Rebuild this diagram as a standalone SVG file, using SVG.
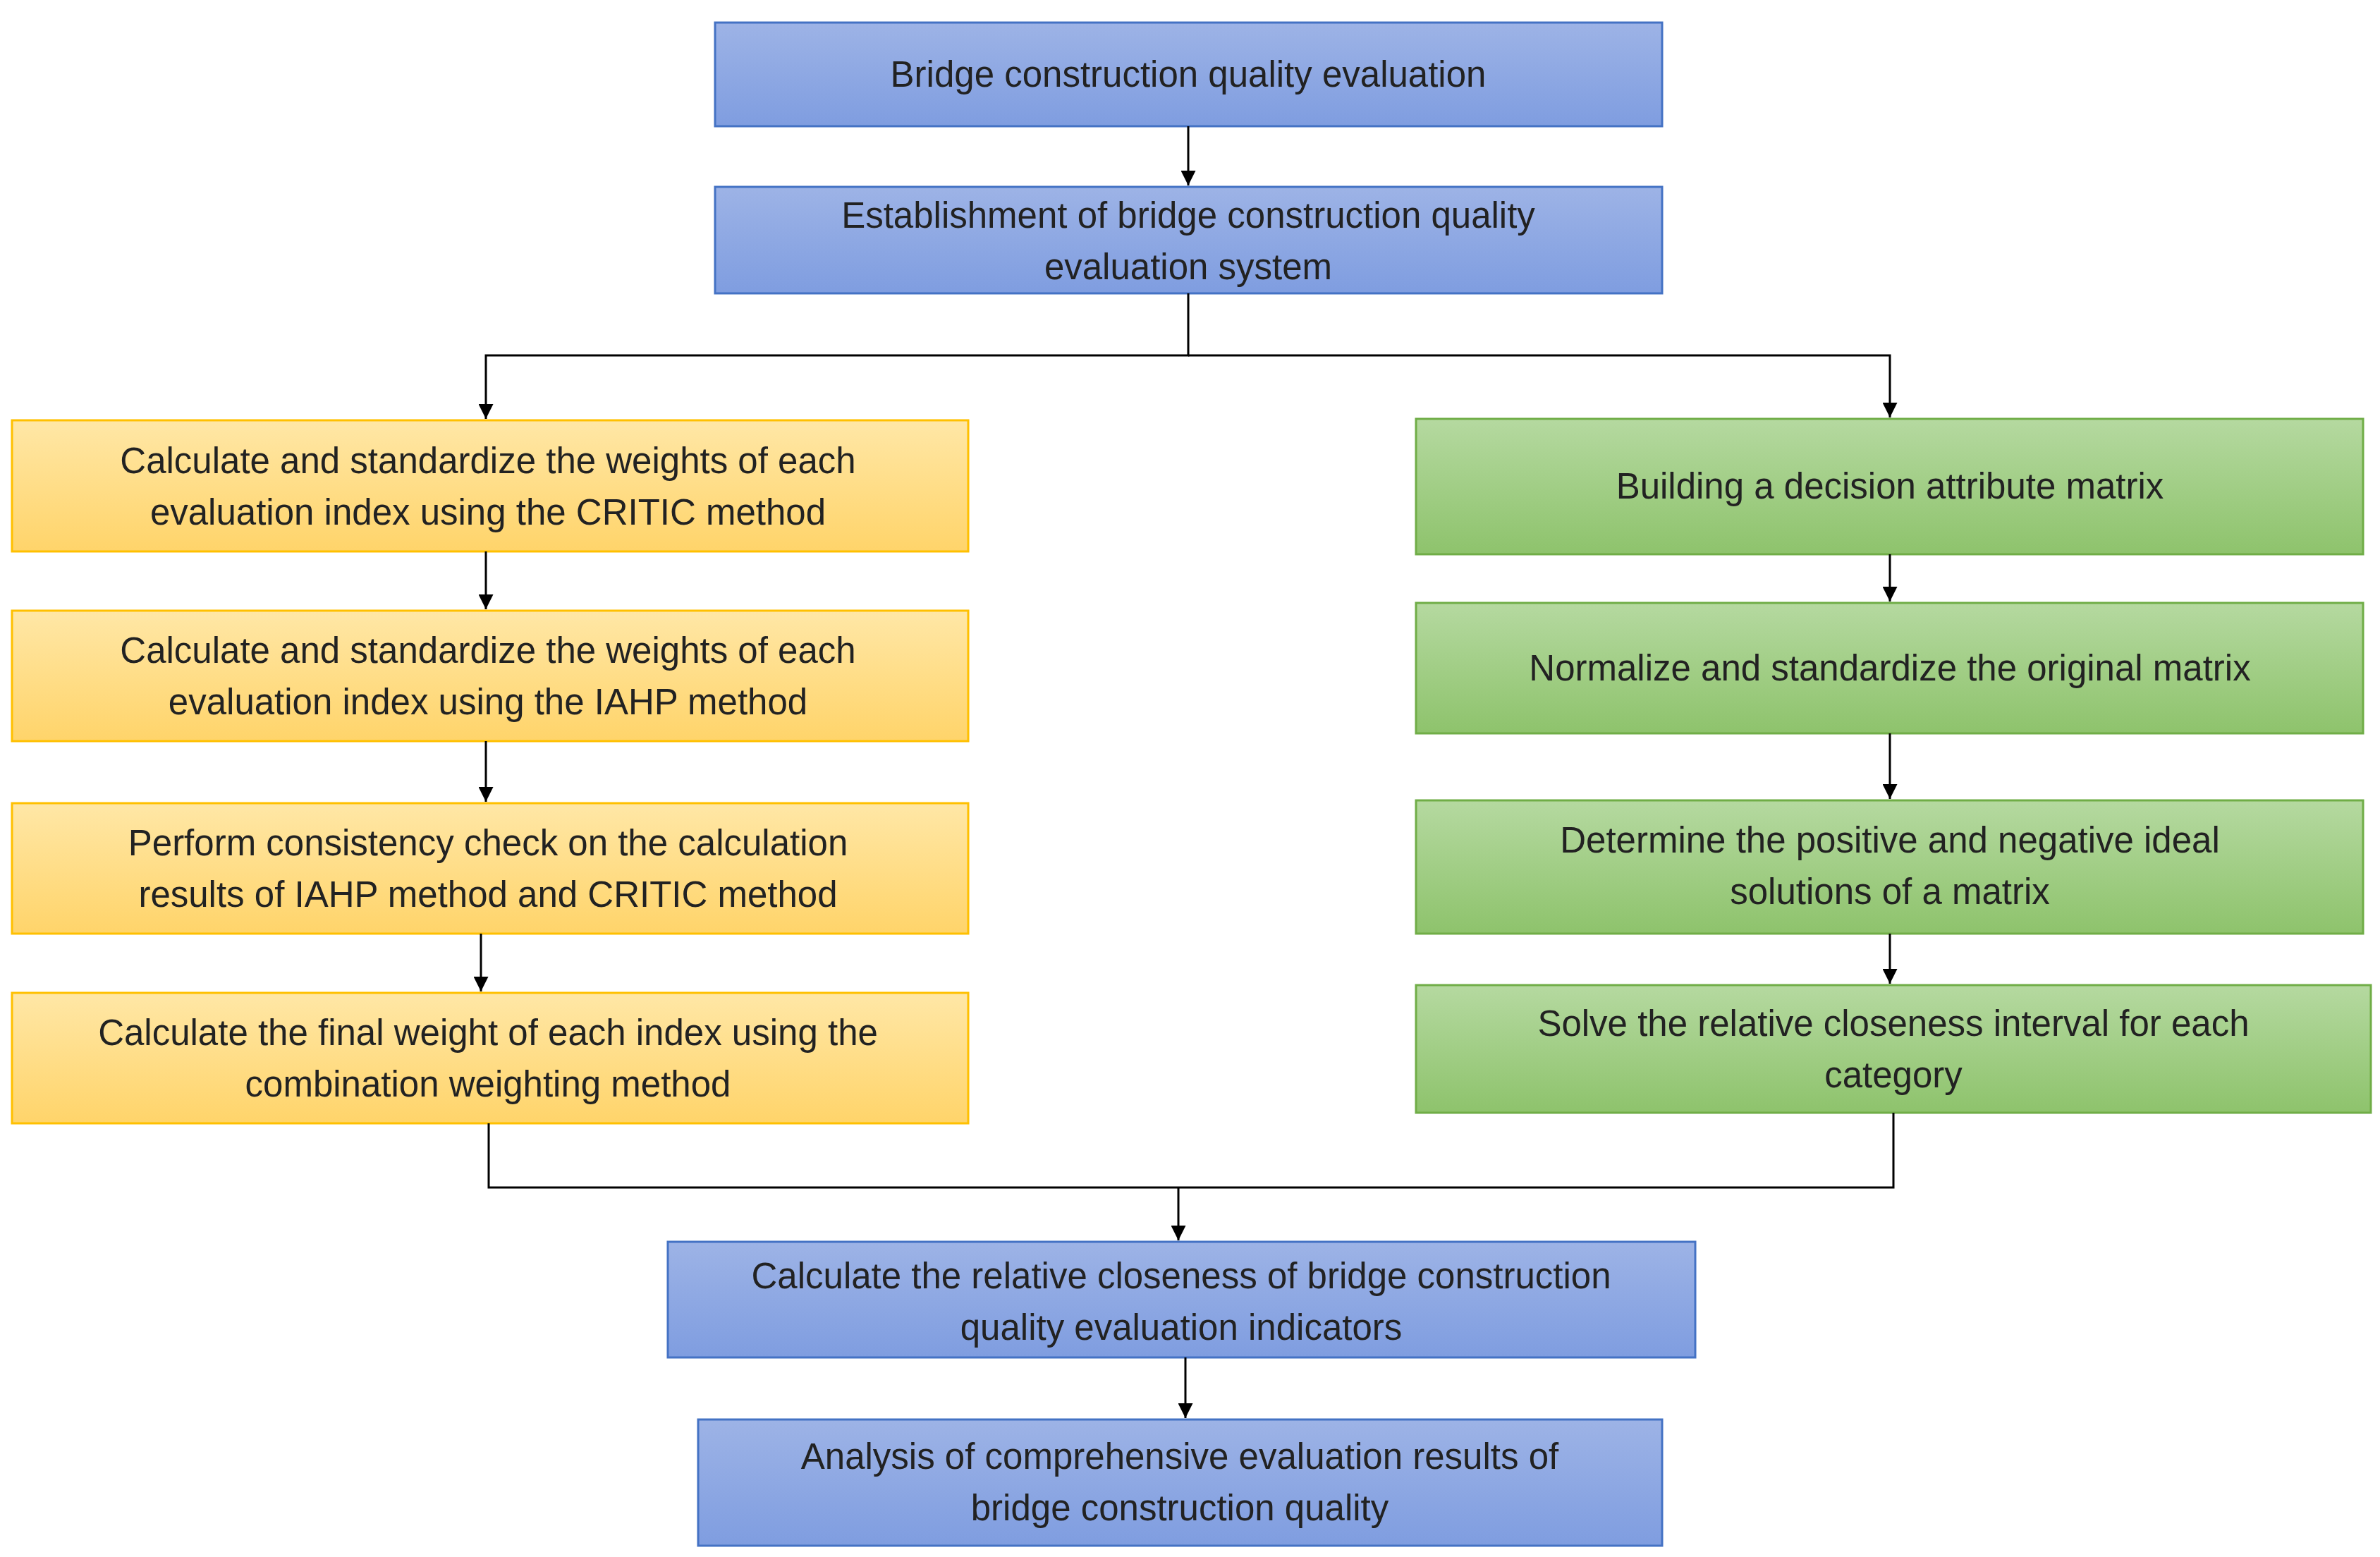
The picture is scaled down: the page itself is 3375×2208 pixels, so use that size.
<svg xmlns="http://www.w3.org/2000/svg" width="3375" height="2208" viewBox="0 0 3375 2208">
<defs>
<linearGradient id="gb" x1="0" y1="0" x2="0" y2="1"><stop offset="0" stop-color="#9db3e6"/><stop offset="1" stop-color="#7f9de0"/></linearGradient>
<linearGradient id="go" x1="0" y1="0" x2="0" y2="1"><stop offset="0" stop-color="#ffe7a6"/><stop offset="1" stop-color="#ffd46a"/></linearGradient>
<linearGradient id="gg" x1="0" y1="0" x2="0" y2="1"><stop offset="0" stop-color="#b5d9a0"/><stop offset="1" stop-color="#8ec36c"/></linearGradient>
<marker id="ar" viewBox="0 0 10 10" refX="10" refY="5" markerWidth="7" markerHeight="7" orient="auto"><path d="M0,0 L10,5 L0,10 z" fill="#000"/></marker>
</defs>
<style>
.b{fill:url(#gb);stroke:#4472c4;stroke-width:3}
.o{fill:url(#go);stroke:#ffc000;stroke-width:3}
.g{fill:url(#gg);stroke:#70ad47;stroke-width:3}
text{font-family:"Liberation Sans",Arial,sans-serif;font-size:51px;fill:#222;text-anchor:middle}
.c{fill:none;stroke:#000;stroke-width:3}
</style>
<rect width="3375" height="2208" fill="#fff"/>
<g id="n1"><rect class="b" x="1014" y="32" width="1343" height="147"/><text x="1685" y="123">Bridge construction quality evaluation</text></g>
<g id="n2"><rect class="b" x="1014" y="265" width="1343" height="151"/><text x="1685" y="323">Establishment of bridge construction quality</text><text x="1685" y="396">evaluation system</text></g>
<g id="l1"><rect class="o" x="17" y="596" width="1356" height="186"/><text x="692" y="671">Calculate and standardize the weights of each</text><text x="692" y="744">evaluation index using the CRITIC method</text></g>
<g id="l2"><rect class="o" x="17" y="866" width="1356" height="185"/><text x="692" y="940">Calculate and standardize the weights of each</text><text x="692" y="1013">evaluation index using the IAHP method</text></g>
<g id="l3"><rect class="o" x="17" y="1139" width="1356" height="185"/><text x="692" y="1213">Perform consistency check on the calculation</text><text x="692" y="1286">results of IAHP method and CRITIC method</text></g>
<g id="l4"><rect class="o" x="17" y="1408" width="1356" height="185"/><text x="692" y="1482">Calculate the final weight of each index using the</text><text x="692" y="1555">combination weighting method</text></g>
<g id="r1"><rect class="g" x="2008" y="594" width="1343" height="192"/><text x="2680" y="707">Building a decision attribute matrix</text></g>
<g id="r2"><rect class="g" x="2008" y="855" width="1343" height="185"/><text x="2680" y="965">Normalize and standardize the original matrix</text></g>
<g id="r3"><rect class="g" x="2008" y="1135" width="1343" height="189"/><text x="2680" y="1209">Determine the positive and negative ideal</text><text x="2680" y="1282">solutions of a matrix</text></g>
<g id="r4"><rect class="g" x="2008" y="1397" width="1354" height="181"/><text x="2685" y="1469">Solve the relative closeness interval for each</text><text x="2685" y="1542">category</text></g>
<g id="b1"><rect class="b" x="947" y="1761" width="1457" height="164"/><text x="1675" y="1827">Calculate the relative closeness of bridge construction</text><text x="1675" y="1900">quality evaluation indicators</text></g>
<g id="b2"><rect class="b" x="990" y="2013" width="1367" height="179"/><text x="1673" y="2083">Analysis of comprehensive evaluation results of</text><text x="1673" y="2156">bridge construction quality</text></g>
<g id="connectors">
<path class="c" d="M1685,179 V263" marker-end="url(#ar)"/>
<path class="c" d="M1685,416 V504 H689 V594" marker-end="url(#ar)"/>
<path class="c" d="M1685,504 H2680 V592" marker-end="url(#ar)"/>
<path class="c" d="M689,782 V864" marker-end="url(#ar)"/>
<path class="c" d="M689,1051 V1137" marker-end="url(#ar)"/>
<path class="c" d="M682,1324 V1406" marker-end="url(#ar)"/>
<path class="c" d="M2680,786 V853" marker-end="url(#ar)"/>
<path class="c" d="M2680,1040 V1133" marker-end="url(#ar)"/>
<path class="c" d="M2680,1324 V1395" marker-end="url(#ar)"/>
<path class="c" d="M693,1593 V1684 H2685 V1578"/>
<path class="c" d="M1671,1684 V1759" marker-end="url(#ar)"/>
<path class="c" d="M1681,1925 V2011" marker-end="url(#ar)"/>
</g>
</svg>
